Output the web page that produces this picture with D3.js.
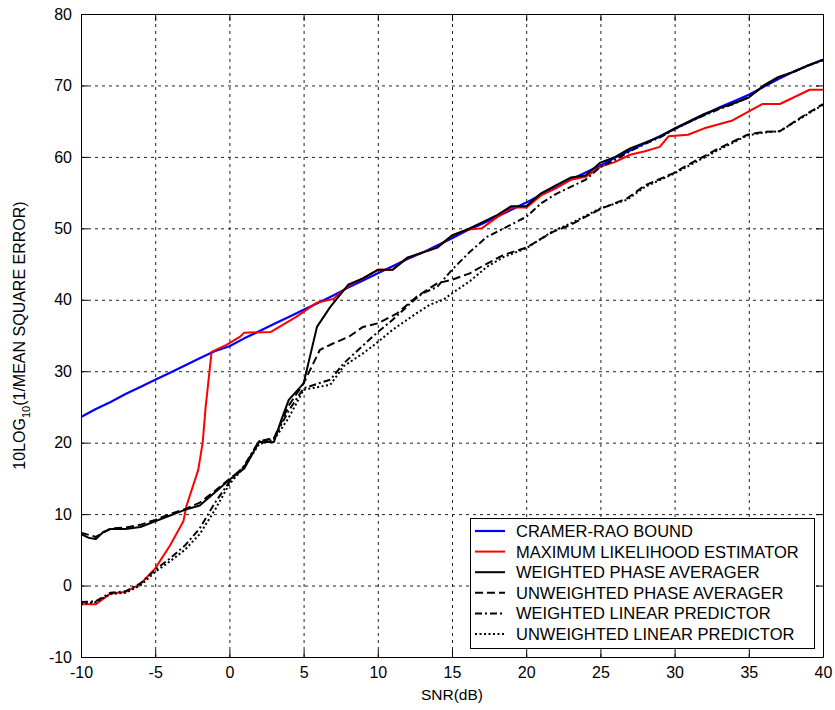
<!DOCTYPE html>
<html>
<head>
<meta charset="utf-8">
<script src="https://cdn.jsdelivr.net/npm/d3@7"></script>
<style>
  body { margin: 0; background: #fff; }
  text { font-family: "Liberation Sans", Arial, sans-serif; }
</style>
</head>
<body>
<svg id="main"></svg>
<script>
// tick values
let xTicks = [-10, -5, 0, 5, 10, 15, 20, 25, 30, 35, 40]
let yTicks = [-10, 0, 10, 20, 30, 40, 50, 60, 70, 80]

// series data (snr in dB, value in dB)
let crbSnr = [-10,-9,-8,-7,-6,-5,-4,-3,-2,-1,0,1,2,3,4,5,6,7,8,9,10,11,12,13,14,15,16,17,18,19,20,21,22,23,24,25,26,27,28,29,30,31,32,33,34,35,36,37,38,39,40]
let crbVal = [23.6,24.7,25.7,26.8,27.8,28.8,29.8,30.8,31.8,32.8,33.5,34.6,35.6,36.6,37.6,38.6,39.6,40.6,41.7,42.7,43.7,44.7,45.7,46.6,47.6,48.6,49.7,50.6,51.6,52.6,53.6,54.7,55.7,56.8,57.8,58.8,59.9,60.9,61.9,62.9,63.9,64.9,65.9,66.9,67.8,68.7,69.8,70.9,71.9,72.8,73.6]

let mleSnr = [-10,-9,-8,-7,-6,-5,-4,-3.1,-2.9,-2.1,-1.8,-1.6,-1.2,-0.2,0.7,1,2.8,4.5,5.9,7,8.1,9,10,11,12,13,14,15,16,17,18,19,20,21,22,23,24,25,26,27,28,29,29.6,30.9,32,33.9,35.9,37.1,39.1,40]
let mleVal = [-2.6,-2.6,-1.1,-0.9,0.2,2.4,5.6,9.0,11.1,16.2,20,25,32.7,33.7,34.8,35.4,35.5,37.6,39.6,40.1,42.1,43,44.2,44.2,45.9,46.6,47.3,49.0,49.8,50.0,51.5,52.9,52.9,54.6,55.6,56.8,57.2,58.6,59.3,60.3,60.8,61.4,62.9,63.1,64.0,65.1,67.4,67.4,69.4,69.4]

let wpaSnr = [-10,-9.5,-9,-8.5,-8,-7,-6,-5,-4,-3,-2,-1,0,1,2,3,3.5,4,5,5.9,6.8,8,9,10,11,12,13,14,15,16,17,18,19,20,21,22,23,24,25,26,27,28,29,30,31,32,33,34,35,36,37,38,39,40]
let wpaVal = [7.2,6.7,6.5,7.5,7.9,7.9,8.2,9.0,9.8,10.6,11.2,13.0,14.8,16.4,20.1,20.1,23.2,26.0,28.3,36.2,39.0,42.1,43.0,44.2,44.2,45.9,46.6,47.3,49.0,49.8,50.8,51.8,53.1,53.1,54.9,56.0,57.1,57.4,59.2,60.0,61.2,62.0,62.8,64.0,65.0,66.0,66.8,67.5,68.3,70.0,71.2,71.9,72.8,73.6]

let upaSnr = [-10,-9,-8,-7,-6,-5,-4,-3,-2,-1,0,1,2,3,4,5,6.1,6.8,8.1,9,10,11.3,12.6,14,15,16.2,17.3,18.5,20,21.8,23,25,26.8,28,29.9,31,32.8,34.9,36,37.1,38.5,40]
let upaVal = [7.4,6.8,8.0,8.1,8.5,9.2,10.0,10.7,11.6,13.2,14.9,16.6,20.2,20.6,25.2,28.3,33.0,33.7,34.9,36.2,36.7,38.1,40.4,42.3,42.8,43.7,45.0,46.3,47.3,49.5,50.5,52.7,54.2,56.0,57.7,59.0,61.0,63.1,63.5,63.6,65.5,67.4]

let wlpSnr = [-10,-9,-8,-7,-6,-5,-4,-3,-2,-1,0,1,2,3,4,5,6,6.8,7.7,9,9.9,11,12.2,13,14,15,16.2,17.35,18.5,20,21,22,23,24,25,26,27,28,29,30,31,32,33,34,35,36,37,38,39,40]
let wlpVal = [-2.3,-2.2,-1.0,-0.8,0.3,2.2,3.8,5.6,8.0,11.5,14.5,16.8,20.2,20.6,24.5,27.6,28.3,28.8,31.1,33.6,35.3,37.2,39.5,40.9,41.8,44.2,46.7,48.8,50.0,51.6,53.5,54.8,55.8,56.8,58.6,59.6,60.8,61.8,62.7,63.9,64.9,65.8,66.7,67.4,68.4,69.9,71.1,71.9,72.8,73.5]

let ulpSnr = [-10,-9,-8,-7,-6,-5,-4,-3,-2,-1,0,1,2,3,4,5,6,6.8,7.7,9,9.9,11,12.6,13.5,14.4,15,16.2,17.35,18.5,20,21.8,23,25,26.8,28,29.9,31,32.8,34.9,36,37.1,38.5,40]
let ulpVal = [-2.6,-2.3,-1.2,-1.0,0.0,1.9,3.4,5.0,7.2,10.5,14.2,16.6,19.8,20.4,23.5,27.4,27.8,28.1,30.7,32.5,33.9,35.8,38.1,39.3,40.0,40.9,42.6,44.6,46.0,47.2,49.6,50.7,52.8,54.0,55.8,57.6,58.8,60.8,63.0,63.4,63.6,65.4,67.3]

let seriesNames = ['CRAMER-RAO BOUND', 'MAXIMUM LIKELIHOOD ESTIMATOR', 'WEIGHTED PHASE AVERAGER',
    'UNWEIGHTED PHASE AVERAGER', 'WEIGHTED LINEAR PREDICTOR', 'UNWEIGHTED LINEAR PREDICTOR']

let width = 835
let height = 710
let padLeft = 81, padRight = 823, padTop = 14, padBottom = 657

let svg = d3.select('#main').attr('width', width).attr('height', height)

let xScale = d3.scaleLinear().domain([-10, 40]).range([padLeft, padRight])
let yScale = d3.scaleLinear().domain([-10, 80]).range([padBottom, padTop])

// series table built from the arrays above
let series = [
    {name: seriesNames[0], x: crbSnr, y: crbVal, color: '#0000ff', dash: null, w: 2.2},
    {name: seriesNames[1], x: mleSnr, y: mleVal, color: '#ff0000', dash: null, w: 2},
    {name: seriesNames[2], x: wpaSnr, y: wpaVal, color: '#000', dash: null, w: 2},
    {name: seriesNames[3], x: upaSnr, y: upaVal, color: '#000', dash: '8,4', w: 2},
    {name: seriesNames[4], x: wlpSnr, y: wlpVal, color: '#000', dash: '7,3,2,3', w: 2},
    {name: seriesNames[5], x: ulpSnr, y: ulpVal, color: '#000', dash: '2,2.5', w: 2}
]

// grid
svg.append('g')
    .attr('transform', `translate(0, ${padBottom})`)
    .call(d3.axisBottom(xScale).tickValues(xTicks.slice(1, -1)).tickSize(-(padBottom - padTop)).tickFormat(''))
    .call(g => g.select('.domain').remove())
    .selectAll('line').attr('stroke', '#222').attr('stroke-dasharray', '3,4')
svg.append('g')
    .attr('transform', `translate(${padLeft}, 0)`)
    .call(d3.axisLeft(yScale).tickValues(yTicks.slice(1, -1)).tickSize(-(padRight - padLeft)).tickFormat(''))
    .call(g => g.select('.domain').remove())
    .selectAll('line').attr('stroke', '#222').attr('stroke-dasharray', '3,4')

// curves
let clip = svg.append('clipPath').attr('id', 'clip')
clip.append('rect').attr('x', padLeft).attr('y', padTop).attr('width', padRight - padLeft).attr('height', padBottom - padTop)

series.forEach(s => {
    let pts = s.x.map((v, i) => [v, s.y[i]])
    let line = d3.line().x(d => xScale(d[0])).y(d => yScale(d[1]))
    svg.append('path')
        .datum(pts)
        .attr('clip-path', 'url(#clip)')
        .attr('fill', 'none')
        .attr('stroke', s.color)
        .attr('stroke-width', s.w)
        .attr('stroke-dasharray', s.dash)
        .attr('stroke-linejoin', 'round')
        .attr('d', line)
})

// axes box with inward ticks, plain hyphen for negatives
const plain = d => String(d)
const styleAxis = g => {
    g.select('.domain').attr('stroke', '#000')
    g.selectAll('.tick line').attr('stroke', '#000')
    g.selectAll('text').attr('font-size', 16).attr('fill', '#000')
        .style('font-family', '"Liberation Sans", Arial, sans-serif')
}
svg.append('g')
    .attr('transform', `translate(0, ${padBottom})`)
    .call(d3.axisBottom(xScale).tickValues(xTicks).tickFormat(plain).tickSizeInner(-7).tickSizeOuter(0).tickPadding(10))
    .call(styleAxis)
svg.append('g')
    .attr('transform', `translate(0, ${padTop})`)
    .call(d3.axisTop(xScale).tickValues(xTicks).tickSizeInner(-7).tickSizeOuter(0).tickFormat(''))
    .call(styleAxis)
svg.append('g')
    .attr('transform', `translate(${padLeft}, 0)`)
    .call(d3.axisLeft(yScale).tickValues(yTicks).tickFormat(plain).tickSizeInner(-7).tickSizeOuter(0).tickPadding(9))
    .call(styleAxis)
svg.append('g')
    .attr('transform', `translate(${padRight}, 0)`)
    .call(d3.axisRight(yScale).tickValues(yTicks).tickSizeInner(-7).tickSizeOuter(0).tickFormat(''))
    .call(styleAxis)

// axis labels
svg.append('text')
    .attr('x', (padLeft + padRight) / 2)
    .attr('y', 700)
    .attr('text-anchor', 'middle')
    .attr('font-size', 15.5)
    .attr('fill', '#000')
    .text('SNR(dB)')

let ylab = svg.append('text')
    .attr('transform', `translate(25, ${(padTop + padBottom) / 2}) rotate(-90)`)
    .attr('text-anchor', 'middle')
    .attr('font-size', 16)
    .attr('fill', '#000')
ylab.append('tspan').text('10LOG')
ylab.append('tspan').attr('font-size', 11).attr('dy', 5).text('10')
ylab.append('tspan').attr('dy', -5).text('(1/MEAN SQUARE ERROR)')

// legend
let legend = svg.append('g')
legend.append('rect')
    .attr('x', 470.5).attr('y', 518.5).attr('width', 344).attr('height', 130)
    .attr('fill', '#fff').attr('stroke', '#000')
series.forEach((s, i) => {
    let cy = 531 + i * 20.6
    legend.append('line')
        .attr('x1', 475).attr('x2', 505).attr('y1', cy).attr('y2', cy)
        .attr('stroke', s.color).attr('stroke-width', s.w).attr('stroke-dasharray', s.dash)
    legend.append('text')
        .attr('x', 516).attr('y', cy + 6)
        .attr('font-size', 16.5)
        .attr('fill', '#000')
        .text(s.name)
})
</script>
</body>
</html>
